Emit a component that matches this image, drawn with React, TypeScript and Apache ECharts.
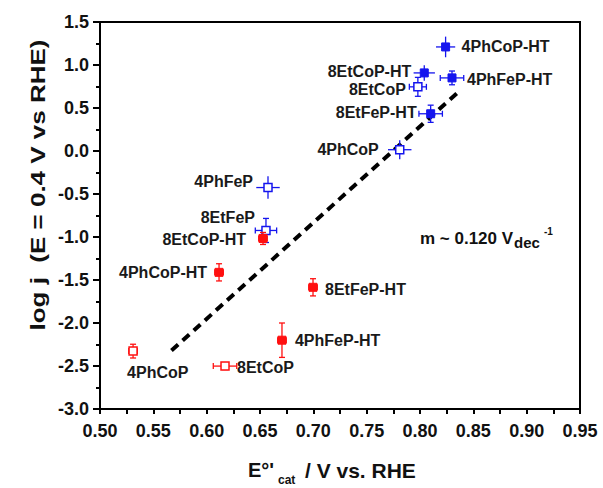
import React, { useEffect, useRef } from "react";
import * as echarts from "echarts";

// ---- data ----
const blueNames = ["4PhCoP-HT", "8EtCoP-HT", "4PhFeP-HT", "8EtCoP", "8EtFeP-HT", "4PhCoP", "4PhFeP", "8EtFeP"];
const blueX = [0.824, 0.804, 0.83, 0.798, 0.81, 0.781, 0.6575, 0.6556];
const blueY = [1.21, 0.908, 0.85, 0.746, 0.433, 0.015, -0.425, -0.924];
const blueXErr = [0.009, 0.01, 0.011, 0.008, 0.011, 0.011, 0.011, 0.01];
const blueYErr = [0.12, 0.09, 0.08, 0.11, 0.1, 0.11, 0.13, 0.14];
const blueFilled = [true, true, true, false, true, false, false, false];

const redNames = ["8EtCoP-HT", "4PhCoP-HT", "8EtFeP-HT", "4PhFeP-HT", "8EtCoP", "4PhCoP"];
const redX = [0.6528, 0.6116, 0.6997, 0.6706, 0.6172, 0.531];
const redY = [-1.017, -1.411, -1.585, -2.2, -2.501, -2.327];
const redXErr = [0.004, 0.004, 0.004, 0.004, 0.011, 0.004];
const redYErr = [0.07, 0.1, 0.1, 0.2, 0.04, 0.08];
const redFilled = [true, true, true, true, false, false];

const fitX = [0.567, 0.838];
const fitY = [-2.32, 0.71];

const xTickMin = 0.5;
const xTickMax = 0.95;
const yTickMin = -3.0;
const yTickMax = 1.5;

// ---- styling (label placement relative to marker, in px) ----
const blueCaps = [false, false, true, true, true, false, false, true];
const redCaps = [true, true, true, true, true, true];
const blueLabelPos: [number, number, string][] = [
  [16, 0, "left"], [-13, -1, "right"], [15, 2, "left"], [-12, 3, "right"],
  [-14, -1, "right"], [-21, 0, "right"], [-15, -6, "right"], [-11, -13, "right"],
];
const redLabelPos: [number, number, string][] = [
  [-17, 1, "right"], [-12, 0, "right"], [12, 2, "left"], [13, 0, "left"], [12, 1, "left"], [-6, 21, "left"],
];

const FONT = "'Liberation Sans', Arial, Helvetica, sans-serif";

function makeSeries(names: string[], xs: number[], ys: number[], ex: number[], ey: number[], filled: boolean[], caps: boolean[], labels: [number, number, string][], color: string) {
  const data = xs.map((x, i) => [x, ys[i], ex[i], ey[i], i]);
  return {
    type: "custom",
    data,
    clip: false,
    encode: { x: 0, y: 1 },
    renderItem: (params: any, api: any) => {
      const x = api.value(0), y = api.value(1), exv = api.value(2), eyv = api.value(3);
      const i = api.value(4);
      const c = api.coord([x, y]);
      const l = api.coord([x - exv, y]);
      const r = api.coord([x + exv, y]);
      const t = api.coord([x, y + eyv]);
      const b = api.coord([x, y - eyv]);
      const ls = { stroke: color, lineWidth: 1.3 };
      const children: any[] = [
        { type: "line", shape: { x1: l[0], y1: c[1], x2: r[0], y2: c[1] }, style: ls },
        { type: "line", shape: { x1: c[0], y1: t[1], x2: c[0], y2: b[1] }, style: ls },
      ];
      if (caps[i]) {
        const cw = 3;
        children.push(
          { type: "line", shape: { x1: l[0], y1: c[1] - cw, x2: l[0], y2: c[1] + cw }, style: ls },
          { type: "line", shape: { x1: r[0], y1: c[1] - cw, x2: r[0], y2: c[1] + cw }, style: ls },
          { type: "line", shape: { x1: c[0] - cw, y1: t[1], x2: c[0] + cw, y2: t[1] }, style: ls },
          { type: "line", shape: { x1: c[0] - cw, y1: b[1], x2: c[0] + cw, y2: b[1] }, style: ls },
        );
      }
      const s = 8;
      children.push({
        type: "rect",
        shape: { x: c[0] - s / 2, y: c[1] - s / 2, width: s, height: s },
        style: filled[i] ? { fill: color, stroke: color, lineWidth: 1 } : { fill: "#fff", stroke: color, lineWidth: 1.5 },
      });
      const lp = labels[i];
      children.push({
        type: "text",
        x: c[0] + lp[0],
        y: c[1] + lp[1],
        style: {
          text: names[i],
          fill: "#1a1a1a",
          font: `bold 16px ${FONT}`,
          align: lp[2],
          verticalAlign: "middle",
          textAlign: lp[2],
          textVerticalAlign: "middle",
        },
      });
      return { type: "group", children };
    },
    z: 3,
  };
}

export default function App() {
  const ref = useRef<HTMLDivElement>(null);
  useEffect(() => {
    const chart = echarts.init(ref.current!, null, { renderer: "svg" });
    const option: any = {
      animation: false,
      backgroundColor: "#fff",
      grid: { left: 100, right: 23, top: 22, bottom: 79, show: true, borderColor: "#000", borderWidth: 2, containLabel: false },
      xAxis: {
        type: "value",
        min: xTickMin,
        max: xTickMax,
        interval: 0.05,
        axisLine: { onZero: false, lineStyle: { color: "#000", width: 2 } },
        axisTick: { length: 5, lineStyle: { color: "#000", width: 2 } },
        minorTick: { show: true, splitNumber: 2, length: 5, lineStyle: { color: "#000", width: 2 } },
        splitLine: { show: false },
        axisLabel: { margin: 13, color: "#111", fontSize: 18, fontWeight: "bold", fontFamily: FONT, formatter: (v: number) => v.toFixed(2) },
      },
      yAxis: {
        type: "value",
        min: yTickMin,
        max: yTickMax,
        interval: 0.5,
        axisLine: { show: true, onZero: false, lineStyle: { color: "#000", width: 2 } },
        axisTick: { show: true, length: 7, lineStyle: { color: "#000", width: 2 } },
        minorTick: { show: true, splitNumber: 2, length: 4, lineStyle: { color: "#000", width: 2 } },
        splitLine: { show: false },
        axisLabel: { margin: 11, color: "#111", fontSize: 18, fontWeight: "bold", fontFamily: FONT, formatter: (v: number) => v.toFixed(1) },
      },
      series: [
        {
          type: "line",
          data: fitX.map((x, i) => [x, fitY[i]]),
          symbol: "none",
          lineStyle: { color: "#000", width: 4, type: [9, 6] },
          z: 2,
        },
        makeSeries(blueNames, blueX, blueY, blueXErr, blueYErr, blueFilled, blueCaps, blueLabelPos, "#1515ee"),
        makeSeries(redNames, redX, redY, redXErr, redYErr, redFilled, redCaps, redLabelPos, "#ff1010"),
      ],
      graphic: [
        {
          type: "text",
          x: 38,
          y: 185,
          rotation: Math.PI / 2,
          scaleX: 1.3,
          style: { text: "log j  (E = 0.4 V vs RHE)", fill: "#111", font: `bold 20px ${FONT}`, align: "center", verticalAlign: "middle" },
        },
        { type: "text", x: 248, y: 470, style: { text: "E°'", fill: "#111", font: `bold 20px ${FONT}`, align: "left", verticalAlign: "middle" } },
        { type: "text", x: 278, y: 480, style: { text: "cat", fill: "#111", font: `bold 12px ${FONT}`, align: "left", verticalAlign: "middle" } },
        { type: "text", x: 305, y: 470, style: { text: "/ V vs. RHE", fill: "#111", font: `bold 21px ${FONT}`, align: "left", verticalAlign: "middle" } },
        { type: "text", x: 420, y: 238, style: { text: "m ~ 0.120 V", fill: "#111", font: `bold 17px ${FONT}`, align: "left", verticalAlign: "middle" } },
        { type: "text", x: 514, y: 242, style: { text: "dec", fill: "#111", font: `bold 15px ${FONT}`, align: "left", verticalAlign: "middle" } },
        { type: "text", x: 544, y: 231, style: { text: "-1", fill: "#111", font: `bold 10px ${FONT}`, align: "left", verticalAlign: "middle" } },
      ],
    };
    chart.setOption(option);
    return () => chart.dispose();
  }, []);
  return <div ref={ref} style={{ position: "absolute", left: 0, top: 0, width: 603, height: 488 }} />;
}
